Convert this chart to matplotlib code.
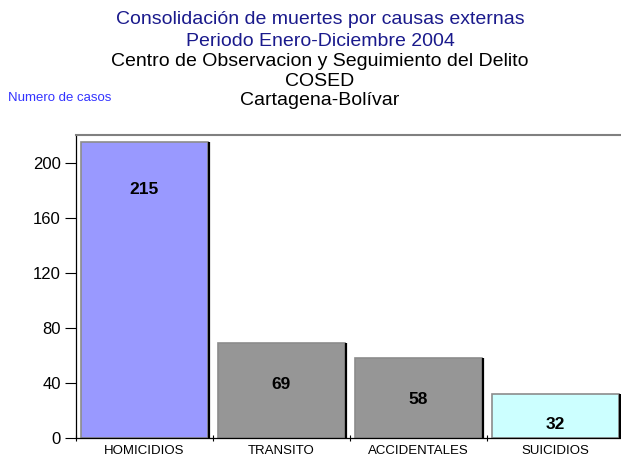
import matplotlib
matplotlib.use("Agg")
import matplotlib.pyplot as plt

categories = ["HOMICIDIOS", "TRANSITO", "ACCIDENTALES", "SUICIDIOS"]
values = [215, 69, 58, 32]
bar_colors = ["#9999ff", "#969696", "#969696", "#ccffff"]
yticks = [0, 40, 80, 120, 160, 200]

plt.rcParams['font.family'] = ['Liberation Sans', 'DejaVu Sans']

W, H = 621, 458
fig = plt.figure(figsize=(W / 100, H / 100), dpi=100)
# axes in pixel coords: left 76, right 624, top 135, bottom 438
ax = fig.add_axes([76 / W, (H - 438) / H, (624 - 76) / W, (438 - 135) / H])

x = list(range(len(categories)))
width = 0.92
bars = ax.bar(x, values, width=width, color=bar_colors, edgecolor="#8c8c8c",
              linewidth=1.2, zorder=2)
# dark shadow on right side of bars
for b in bars:
    xr = b.get_x() + b.get_width()
    ax.plot([xr + 0.008, xr + 0.008], [0, b.get_height()], color="black", lw=1.6,
            zorder=3, solid_capstyle="butt")

for xi, v in zip(x, values):
    off = -22 if v < 40 else (-30 if v < 100 else -34)
    ax.annotate(str(v), (xi, v), xytext=(0, off), textcoords="offset points",
                ha="center", va="center", fontsize=12.5, fontweight="bold", color="black")

ax.set_xlim(-0.5, len(categories) - 0.5)
ax.set_ylim(0, 220)
ax.set_yticks(yticks)
ax.set_yticklabels([str(t) for t in yticks], fontsize=12)
ax.set_xticks([i - 0.5 for i in range(len(categories) + 1)])
ax.set_xticklabels([])
ax.set_xticks(x, minor=True)
ax.set_xticklabels(categories, minor=True, fontsize=9.5)
ax.tick_params(axis="x", which="minor", length=0, pad=5)
ax.tick_params(axis="x", which="major", length=5, direction="inout", width=0.8)
ax.tick_params(axis="y", length=8, width=0.8, pad=3)

ax.spines["right"].set_visible(False)
ax.spines["top"].set_color("#808080")
ax.spines["top"].set_linewidth(1.5)
ax.spines["left"].set_color("black")
ax.spines["bottom"].set_color("black")
ax.spines["left"].set_linewidth(0.9)
ax.spines["bottom"].set_linewidth(0.9)

title_c = "#1a1a8c"
cx = 320 / W
fs = 14
fig.text(cx, 1 - 20 / H, "Consolidación de muertes por causas externas",
         ha="center", va="center", fontsize=fs, color=title_c)
fig.text(cx, 1 - 41 / H, "Periodo Enero-Diciembre 2004",
         ha="center", va="center", fontsize=fs, color=title_c)
fig.text(cx, 1 - 61 / H, "Centro de Observacion y Seguimiento del Delito",
         ha="center", va="center", fontsize=fs, color="black")
fig.text(cx, 1 - 81 / H, "COSED",
         ha="center", va="center", fontsize=fs, color="black")
fig.text(cx, 1 - 100 / H, "Cartagena-Bolívar",
         ha="center", va="center", fontsize=fs, color="black")
fig.text(8 / W, 1 - 98 / H, "Numero de casos",
         ha="left", va="center", fontsize=9.5, color="#3333ff")

fig.savefig("out.png", dpi=100)
